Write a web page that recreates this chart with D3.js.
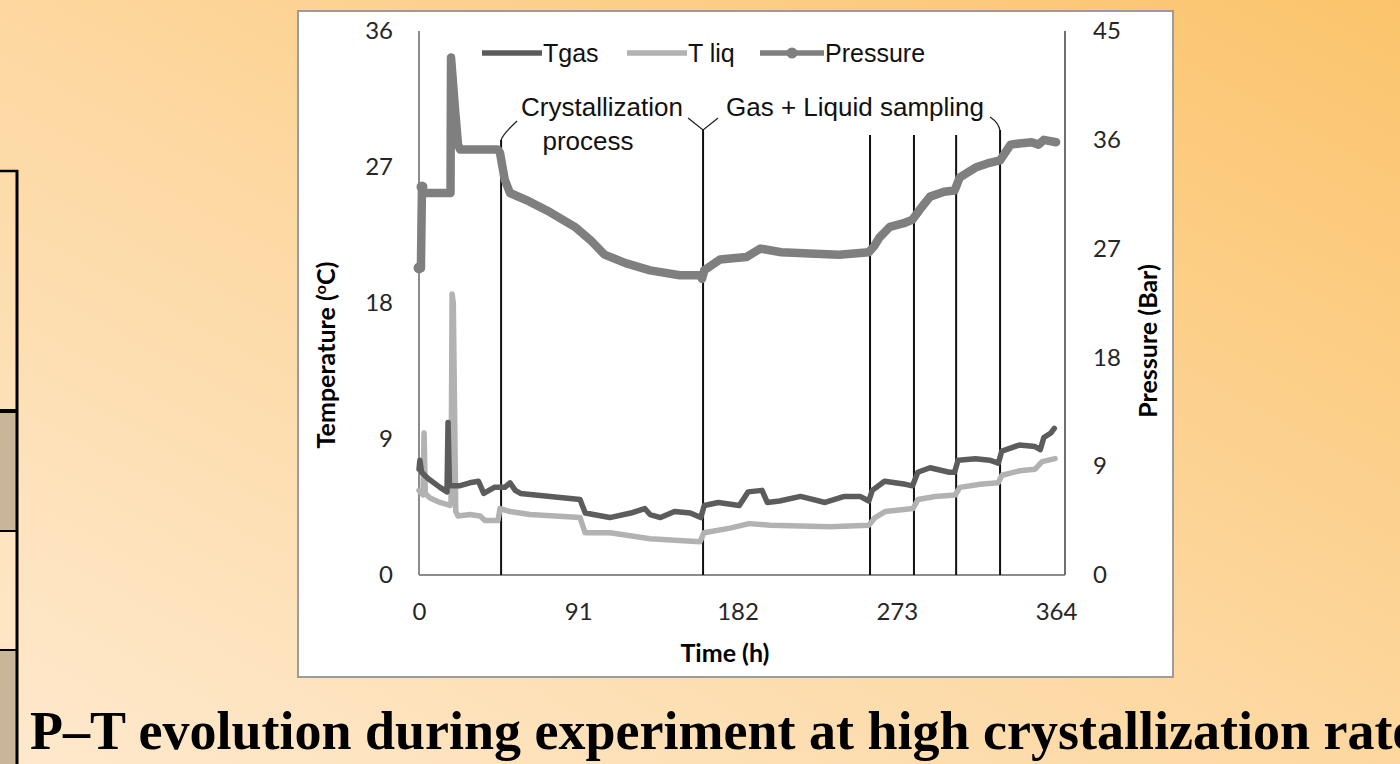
<!DOCTYPE html>
<html>
<head>
<meta charset="utf-8">
<script src="https://cdn.jsdelivr.net/npm/d3@7"></script>
<style>
  html, body { margin: 0; padding: 0; overflow: hidden; }
  svg { display: block; }
</style>
</head>
<body>
<div id="chart"></div>
<script>
// time (h), temperature (degC)
var tgasData = [[0,7.0],[0.5,7.6],[1.5,6.8],[5,6.4],[12,5.8],[16,5.5],[16.6,10.1],[17.4,5.9],[23,5.9],[29,6.1],[34,6.2],
  [37,5.4],[43,5.8],[49,5.8],[52,6.1],[55,5.6],[58,5.4],[75,5.2],[92,5.0],[95,4.1],[109,3.8],[121,4.1],[129,4.4],
  [132,4.0],[138,3.8],[146,4.2],[155,4.1],[161,3.8],[163,4.6],[171,4.8],[183,4.6],[188,5.5],[196,5.6],[199,4.8],
  [206,4.9],[218,5.2],[232,4.8],[243,5.2],[252,5.2],[257,4.9],[259,5.6],[266,6.2],[278,6.0],[282,5.9],[285,6.8],
  [292,7.1],[303,6.8],[306,6.8],[308,7.6],[318,7.7],[326,7.6],[331,7.4],[333,8.2],[343,8.6],[352,8.5],[355,8.3],
  [357,9.1],[361,9.4],[363,9.7]];
var tliqData = [[0,5.6],[2.3,5.3],[2.9,9.4],[3.6,5.4],[6.3,5.1],[12,4.8],[17.7,4.6],[18.3,4.8],[18.9,18.6],[19.6,18.0],
  [21,4.2],[22.3,3.9],[29.1,4.0],[34.9,3.9],[37.7,3.6],[45.1,3.6],[46.3,4.4],[52,4.2],[63.4,4.0],[92,3.8],[94.9,2.8],
  [109.1,2.8],[132,2.4],[160.6,2.2],[162.8,2.8],[177.7,3.1],[188.6,3.4],[200.6,3.3],[234.9,3.2],[257.1,3.3],
  [260.6,3.8],[266.3,4.2],[282.3,4.4],[285.1,5.0],[294.9,5.2],[306.3,5.3],[309.1,5.8],[320.6,6.0],[330.9,6.1],
  [333.1,6.6],[343.4,6.9],[352,7.0],[356,7.5],[363.4,7.7]];
// time (h), pressure (bar)
var pressureData = [[0,25.4],[1.1,25.4],[1.7,32.1],[2.9,31.6],[18.0,31.6],[18.3,42.8],[20.6,38.5],[22.3,35.6],
  [23.5,35.2],[45,35.2],[46.3,34.9],[49,32.7],[52,31.6],[63,30.9],[75,30.0],[89,28.8],[98,27.7],[106,26.5],
  [118,25.8],[132,25.2],[149,24.8],[160.5,24.8],[161.7,24.5],[163,25.2],[172,26.1],[187,26.3],[195,27.0],
  [207,26.7],[223,26.6],[240,26.5],[257,26.7],[260,27.2],[263,27.9],[269,28.8],[277,29.1],[282,29.4],[286,30.2],
  [292,31.3],[300,31.7],[306,31.8],[309,32.9],[318,33.7],[326,34.1],[332,34.3],[338,35.6],[343,35.7],[350,35.8],
  [354,35.6],[357,36.0],[364,35.8]];
// sampling / phase marker times (h)
var eventTimes = [46.9, 162.3, 257.7, 282.8, 306.9, 332.0];

var xTicks = [0, 91, 182, 273, 364];
var tempTicks = [0, 9, 18, 27, 36];
var pressTicks = [0, 9, 18, 27, 36, 45];
var seriesNames = ["Tgas", "T liq", "Pressure"];
var seriesColors = ["#5c5c5c", "#b2b2b2", "#7f7f7f"];
var caption = "P\u2013T evolution during experiment at high crystallization rate.";

var width = 1400, height = 764;
var svg = d3.select("#chart").append("svg").attr("width", width).attr("height", height);

var defs = svg.append("defs");
var grad = defs.append("linearGradient").attr("id", "bg")
  .attr("x1", "1").attr("y1", "0").attr("x2", "0").attr("y2", "1");
grad.append("stop").attr("offset", "0").attr("stop-color", "#fbc46c");
grad.append("stop").attr("offset", "0.55").attr("stop-color", "#fdd9a4");
grad.append("stop").attr("offset", "1").attr("stop-color", "#fee9cd");
svg.append("rect").attr("width", width).attr("height", height).attr("fill", "url(#bg)");

// fragment of the table on the left edge
var tbl = svg.append("g");
tbl.append("rect").attr("x", 0).attr("y", 413).attr("width", 16).attr("height", 117).attr("fill", "#c9b597");
tbl.append("rect").attr("x", 0).attr("y", 651).attr("width", 16).attr("height", 113).attr("fill", "#c9b597");
tbl.append("line").attr("x1", 0).attr("x2", 18).attr("y1", 171).attr("y2", 171).attr("stroke", "#000").attr("stroke-width", 2.5);
tbl.append("line").attr("x1", 0).attr("x2", 18).attr("y1", 411).attr("y2", 411).attr("stroke", "#000").attr("stroke-width", 4);
tbl.append("line").attr("x1", 0).attr("x2", 18).attr("y1", 531).attr("y2", 531).attr("stroke", "#000").attr("stroke-width", 2);
tbl.append("line").attr("x1", 0).attr("x2", 18).attr("y1", 650).attr("y2", 650).attr("stroke", "#000").attr("stroke-width", 2);
tbl.append("line").attr("x1", 17).attr("x2", 17).attr("y1", 170).attr("y2", 764).attr("stroke", "#000").attr("stroke-width", 3);

// chart panel
svg.append("rect").attr("x", 298).attr("y", 11).attr("width", 875).attr("height", 666)
  .attr("fill", "#fff").attr("stroke", "#9c9c9c").attr("stroke-width", 2);

var x = d3.scaleLinear().domain([0, 369.1]).range([419, 1065]);
var yT = d3.scaleLinear().domain([0, 36]).range([575, 31]);
var yP = d3.scaleLinear().domain([0, 45]).range([575, 31]);

var tickFont = "Lato, 'Open Sans', sans-serif";

var gx = svg.append("g").attr("transform", "translate(0,575)")
  .call(d3.axisBottom(x).tickValues(xTicks).tickSize(0).tickPadding(28).tickFormat(d3.format("d")));
var gl = svg.append("g").attr("transform", "translate(419,0)")
  .call(d3.axisLeft(yT).tickValues(tempTicks).tickSize(0).tickPadding(26).tickFormat(d3.format("d")));
var gr = svg.append("g").attr("transform", "translate(1065,0)")
  .call(d3.axisRight(yP).tickValues(pressTicks).tickSize(0).tickPadding(28).tickFormat(d3.format("d")));
[gx, gl, gr].forEach(function (g) {
  g.select(".domain").remove();
  g.selectAll("text").attr("font-family", tickFont).attr("font-size", 24).attr("fill", "#262626");
});

// plot area borders
var axisColor = "#8c8c8c";
svg.append("line").attr("x1", 419).attr("x2", 419).attr("y1", 31).attr("y2", 575).attr("stroke", axisColor).attr("stroke-width", 2);
svg.append("line").attr("x1", 419).attr("x2", 1065).attr("y1", 575).attr("y2", 575).attr("stroke", axisColor).attr("stroke-width", 2);
svg.append("line").attr("x1", 1065).attr("x2", 1065).attr("y1", 31).attr("y2", 575).attr("stroke", "#707070").attr("stroke-width", 2);

// event lines with bracket arms
var evTops = [140, 130, 135, 135, 135, 130];
svg.append("g").selectAll("line").data(eventTimes).enter().append("line")
  .attr("x1", function (d) { return x(d); }).attr("x2", function (d) { return x(d); })
  .attr("y1", function (d, i) { return evTops[i]; }).attr("y2", 575)
  .attr("stroke", "#111").attr("stroke-width", 2);
var arms = svg.append("g").attr("fill", "none").attr("stroke", "#222").attr("stroke-width", 1.3);
arms.append("path").attr("d", "M" + x(eventTimes[0]) + ",140 Q" + (x(eventTimes[0]) + 2) + ",134 " + (x(eventTimes[0]) + 16) + ",121");
arms.append("path").attr("d", "M" + (x(eventTimes[1]) - 15) + ",118 L" + x(eventTimes[1]) + ",130 L" + (x(eventTimes[1]) + 15) + ",118");
arms.append("path").attr("d", "M" + (x(eventTimes[5]) - 10) + ",117 Q" + (x(eventTimes[5]) - 1) + ",123 " + x(eventTimes[5]) + ",131");

// series
var lineT = d3.line().x(function (d) { return x(d[0]); }).y(function (d) { return yT(d[1]); });
var lineP = d3.line().x(function (d) { return x(d[0]); }).y(function (d) { return yP(d[1]); });
var plot = svg.append("g").attr("fill", "none").attr("stroke-linejoin", "round").attr("stroke-linecap", "round");
plot.append("path").datum(tliqData).attr("d", lineT).attr("stroke", seriesColors[1]).attr("stroke-width", 5.5);
plot.append("path").datum(tgasData).attr("d", lineT).attr("stroke", seriesColors[0]).attr("stroke-width", 5.5);
plot.append("path").datum(pressureData).attr("d", lineP).attr("stroke", seriesColors[2]).attr("stroke-width", 8.5);
svg.append("g").selectAll("circle").data([pressureData[0], pressureData[2]]).enter().append("circle")
  .attr("cx", function (d) { return x(d[0]); }).attr("cy", function (d) { return yP(d[1]); })
  .attr("r", 5.5).attr("fill", seriesColors[2]);

// annotations
var ann = svg.append("g").attr("font-family", "'Liberation Sans', Arial, sans-serif").attr("font-size", 26).attr("fill", "#111");
ann.append("text").attr("x", 602).attr("y", 116).attr("text-anchor", "middle").text("Crystallization");
ann.append("text").attr("x", 588).attr("y", 150).attr("text-anchor", "middle").text("process");
ann.append("text").attr("x", 855).attr("y", 116).attr("text-anchor", "middle").text("Gas + Liquid sampling");

// legend
var legX = [482, 627, 760];
var leg = svg.append("g").selectAll("g").data(seriesNames).enter().append("g")
  .attr("transform", function (d, i) { return "translate(" + legX[i] + ",53)"; });
leg.append("line").attr("x1", 0).attr("x2", function (d, i) { return i === 2 ? 64 : 60; })
  .attr("stroke", function (d, i) { return seriesColors[i]; }).attr("stroke-width", 5.5);
leg.filter(function (d, i) { return i === 2; }).append("circle").attr("cx", 32).attr("r", 5.5).attr("fill", seriesColors[2]);
leg.append("text").attr("x", function (d, i) { return i === 2 ? 65 : 61; }).attr("y", 9)
  .attr("font-family", "'Liberation Sans', Arial, sans-serif").attr("font-size", 25).attr("fill", "#111")
  .text(function (d) { return d; });

// axis titles
svg.append("text").attr("x", 725).attr("y", 662).attr("text-anchor", "middle")
  .attr("font-family", tickFont).attr("font-weight", "bold").attr("font-size", 25).text("Time (h)");
var tt = svg.append("text").attr("transform", "translate(335,355) rotate(-90)").attr("text-anchor", "middle")
  .attr("font-family", tickFont).attr("font-weight", "bold").attr("font-size", 25);
tt.append("tspan").text("Temperature (");
tt.append("tspan").attr("font-size", 16).attr("dy", -9).text("o");
tt.append("tspan").attr("dy", 9).text("C)");
svg.append("text").attr("transform", "translate(1157,341) rotate(-90)").attr("text-anchor", "middle")
  .attr("font-family", tickFont).attr("font-weight", "bold").attr("font-size", 25).text("Pressure (Bar)");

// caption, runs off the right edge as in the slide
svg.append("text").attr("x", 30).attr("y", 749)
  .attr("font-family", "'Liberation Serif', 'Times New Roman', serif").attr("font-weight", "bold")
  .attr("font-size", 54).attr("fill", "#000").text(caption);
</script>
</body>
</html>
